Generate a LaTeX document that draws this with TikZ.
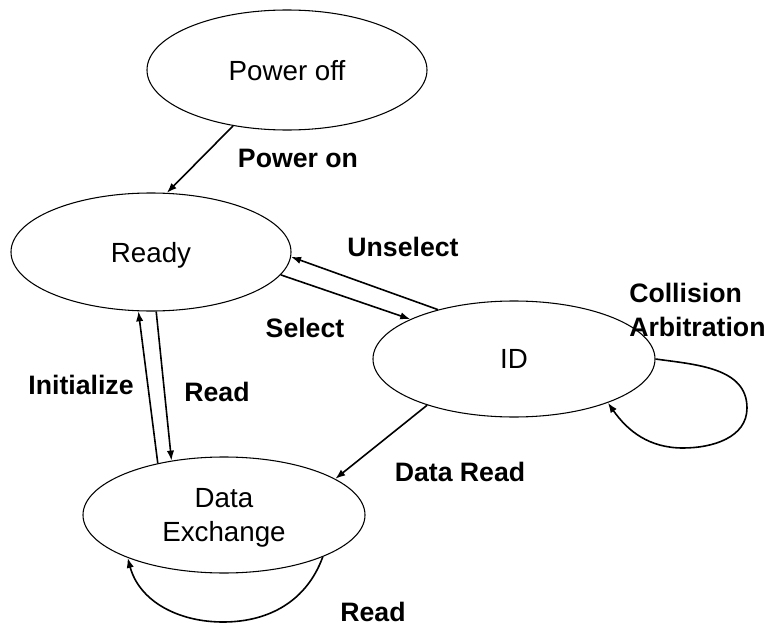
\documentclass[tikz,border=0pt]{standalone}
\usepackage{fontspec}
\setmainfont{Liberation Sans}
\usetikzlibrary{arrows.meta,shapes.geometric}
\begin{document}
\begin{tikzpicture}[x=0.75pt,y=0.75pt,
  state/.style={draw, line width=0.8pt, ellipse, inner sep=0pt, text depth=0pt,
    font=\fontsize{20.8}{26}\selectfont, align=center},
  lbl/.style={font=\fontsize{20}{25.5}\selectfont\bfseries, text depth=0pt, inner sep=0pt},
  arr/.style={line width=1.2pt, -{Latex[length=7.5pt,width=5.5pt]}}]
\useasboundingbox (0,0) rectangle (769,-628);
\node[state, minimum width=210pt, minimum height=90pt] (off) at (287,-70) {Power off};
\node[state, minimum width=210pt, minimum height=88.5pt] (ready) at (151,-252) {Ready};
\node[state, minimum width=211.5pt, minimum height=87pt] (id) at (514,-359) {ID};
\node[state, minimum width=211.5pt, minimum height=87pt] (dx) at (224,-515) {Data\\Exchange};

\draw[arr] (off.226) -- (ready.75);
\draw[arr] (id.147.5) -- (ready.358);
\draw[arr] (ready.350.5) -- (id.159.8);
\draw[arr] (dx.142.6) -- (ready.258.5);
\draw[arr] (ready.275.8) -- (dx.134.4);
\draw[arr] (id.208.7) -- (dx.18);
\draw[arr] (id.0) to[out=-8,in=90] (747,-408) to[out=-90,in=0] (683,-448) to[out=180,in=-55] (id.335);
\draw[arr] (dx.337) to[out=-110,in=0] (223,-622) to[out=180,in=-75] (dx.204);

\node[lbl] (lpon) at (298,-158) {Power on};
\node[lbl] (lunsel) at (403,-247) {Unselect};
\node[lbl] (lsel) at (305,-328) {Select};
\node[lbl, anchor=west, align=left] (lcoll) at (629,-310) {Collision\\Arbitration};
\node[lbl] (linit) at (81,-385) {Initialize};
\node[lbl] (lread) at (217,-392) {Read};
\node[lbl] (ldread) at (460,-472) {Data Read};
\node[lbl] (lread2) at (373,-612) {Read};
\end{tikzpicture}
\end{document}
